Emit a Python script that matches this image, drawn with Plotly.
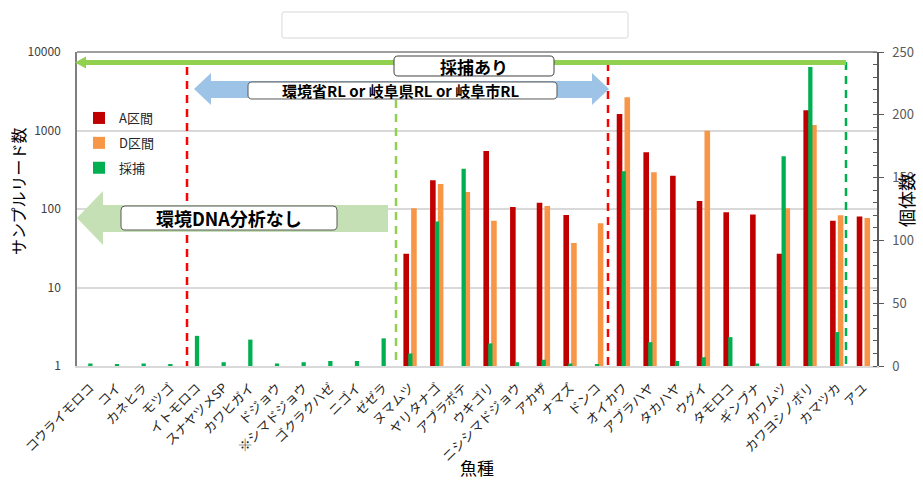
import plotly.graph_objects as go

# ---------------- data ----------------
species = ["コウライモロコ", "コイ", "カネヒラ", "モツゴ", "イトモロコ", "スナヤツメSP",
           "カワヒガイ", "ドジョウ", "※シマドジョウ", "ゴクラクハゼ", "ニゴイ", "ゼゼラ",
           "ヌマムツ", "ヤリタナゴ", "アブラボテ", "ウキゴリ", "ニシシマドジョウ", "アカザ",
           "ナマズ", "ドンコ", "オイカワ", "アブラハヤ", "タカハヤ", "ウグイ", "タモロコ",
           "ギンブナ", "カワムツ", "カワヨシノボリ", "カマツカ", "アユ"]

reads_A = [None] * 12 + [27, 232, None, 550, 106, 120, 84, None, 1620, 527, 266, 126,
                         91, 85, 27, 1810, 71, 80]
reads_D = [None] * 12 + [102, 208, 165, 71, None, 109, 37, 66, 2650, 293, None, 994,
                         None, None, 102, 1175, 83, 77]
caught = [2, 1, 2, 1, 24, 3, 21, 2, 3, 4, 4, 22,
          10, 115, 157, 18, 3, 5, 2, 1, 155, 19, 4, 7, 23, 2, 167, 238, 27, None]

left_ticks = [1, 10, 100, 1000, 10000]
right_ticks = [0, 50, 100, 150, 200, 250]

FONT = "Noto Sans CJK JP"

# ---------------- geometry helpers (annotation placement only) ----------------
W, H = 923, 480
L, R, T, B = 77, 877, 52, 366


def X(x):
    return (x - L) / (R - L)


def Y(y):
    return (B - y) / (B - T)


def poly(points):
    s = "M " + " L ".join(f"{X(x):.5f},{Y(y):.5f}" for x, y in points) + " Z"
    return s


def rrect(x0, y0, x1, y1, r):
    p = lambda x, y: f"{X(x):.5f},{Y(y):.5f}"
    return (f"M {p(x0 + r, y0)} L {p(x1 - r, y0)} Q {p(x1, y0)} {p(x1, y0 + r)} "
            f"L {p(x1, y1 - r)} Q {p(x1, y1)} {p(x1 - r, y1)} L {p(x0 + r, y1)} "
            f"Q {p(x0, y1)} {p(x0, y1 - r)} L {p(x0, y0 + r)} Q {p(x0, y0)} {p(x0 + r, y0)} Z")


# ---------------- traces ----------------
fig = go.Figure()
fig.add_trace(go.Bar(x=species, y=reads_A, name="A区間", marker_color="#C00000",
                     marker_line_width=0, width=0.21, offset=-0.26, legendgroup="a"))
fig.add_trace(go.Bar(x=species, y=reads_D, name="D区間", marker_color="#F79646",
                     marker_line_width=0, width=0.21, offset=0.03, legendgroup="d"))
fig.add_trace(go.Bar(x=species, y=caught, name="採捕", marker_color="#00B050",
                     marker_line_width=0, width=0.16, offset=-0.08, yaxis="y2",
                     legendgroup="c"))

# ---------------- shapes ----------------
shapes = []
# empty title box
shapes.append(dict(type="path", xref="paper", yref="paper", path=rrect(282, 12, 628, 38, 2),
                   fillcolor="white", line=dict(color="#D9D9D9", width=1)))
# top border
shapes.append(dict(type="line", xref="paper", yref="paper", x0=0, x1=1, y0=1, y1=1,
                   line=dict(color="#7F7F7F", width=1.6)))
# vertical dashed lines
for xp, y_top, col in [(187, 67, "#FF0000"), (396, 100, "#92D050"),
                       (608, 63, "#FF0000"), (846, 62, "#00B050")]:
    shapes.append(dict(type="line", xref="paper", yref="paper", x0=X(xp), x1=X(xp),
                       y0=Y(y_top), y1=Y(B), line=dict(color=col, width=2.5, dash="8px,6px")))
# green "採捕あり" arrow
shapes.append(dict(type="path", xref="paper", yref="paper",
                   path=poly([(75, 62.5), (86, 56.5), (86, 60), (846, 60), (846, 65),
                              (86, 65), (86, 68.5)]),
                   fillcolor="#92D050", line=dict(width=0)))
shapes.append(dict(type="path", xref="paper", yref="paper", path=rrect(394, 56, 554, 76, 4),
                   fillcolor="white", line=dict(color="#404040", width=1)))
# blue double arrow
shapes.append(dict(type="path", xref="paper", yref="paper",
                   path=poly([(194, 89), (211, 73), (211, 81), (592, 81), (592, 73),
                              (609, 89), (592, 105), (592, 98), (211, 98), (211, 105)]),
                   fillcolor="#9DC3E6", line=dict(width=0)))
shapes.append(dict(type="path", xref="paper", yref="paper", path=rrect(248, 82, 557, 99, 4),
                   fillcolor="white", line=dict(color="#595959", width=1)))
# pale green left arrow
shapes.append(dict(type="path", xref="paper", yref="paper",
                   path=poly([(77, 218), (103, 191), (103, 205), (388, 205), (388, 232),
                              (103, 232), (103, 245)]),
                   fillcolor="#C5E0B4", line=dict(width=0)))
shapes.append(dict(type="path", xref="paper", yref="paper", path=rrect(121, 206, 337, 230, 4),
                   fillcolor="white", line=dict(color="#595959", width=1)))

# ---------------- annotations ----------------
ann = []


def text(x, y, s, size, bold=False, angle=0, color="#000000"):
    ann.append(dict(xref="paper", yref="paper", x=X(x), y=Y(y), text=(f"<b>{s}</b>" if bold else s),
                    showarrow=False, xanchor="center", yanchor="middle", textangle=angle,
                    font=dict(family=FONT, size=size, color=color)))


text(474, 66, "採捕あり", 17, bold=True)
text(401, 90.5, "環境省RL or 岐阜県RL or 岐阜市RL", 15, bold=True)
text(229, 218, "環境DNA分析なし", 18, bold=True)
text(18, 191, "サンプルリード数", 16, angle=-90)
text(906, 200, "個体数", 18, angle=-90)
text(477, 467, "魚種", 17)

fig.update_layout(
    width=W, height=H,
    margin=dict(l=L, r=W - R, t=T, b=H - B, autoexpand=False),
    paper_bgcolor="white", plot_bgcolor="white",
    font=dict(family=FONT, color="#404040"),
    barmode="overlay",
    shapes=shapes, annotations=ann,
    showlegend=True,
    legend=dict(x=X(79), y=Y(103), xanchor="left", yanchor="top", bgcolor="rgba(0,0,0,0)",
                font=dict(family=FONT, size=13, color="#262626"), tracegroupgap=5,
                itemwidth=30),
    xaxis=dict(type="category", categoryorder="array", categoryarray=species,
               tickangle=-45, tickfont=dict(family=FONT, size=13, color="#262626"),
               showline=True, linecolor="#D9D9D9", linewidth=2, showgrid=False,
               ticks="", range=[-0.5, 29.5], ticklabelstandoff=7),
    yaxis=dict(type="log", range=[0, 4], tickvals=left_ticks,
               ticktext=[str(v) for v in left_ticks],
               tickfont=dict(size=12, color="#404040"),
               showgrid=True, gridcolor="#D9D9D9", gridwidth=1.5,
               showline=True, linecolor="#7F7F7F", linewidth=1.6, zeroline=False,
               ticks="", ticklabelstandoff=12),
    yaxis2=dict(overlaying="y", side="right", range=[0, 250], tickvals=right_ticks,
                tickfont=dict(size=13, color="#595959"), showgrid=False,
                showline=True, linecolor="#595959", linewidth=1.5, zeroline=False,
                ticks="outside", ticklen=5, tickcolor="#595959",
                minor=dict(dtick=10, ticks="inside", ticklen=4, tickcolor="#595959"),
                ticklabelstandoff=6),
)

fig.write_html("out.html")
